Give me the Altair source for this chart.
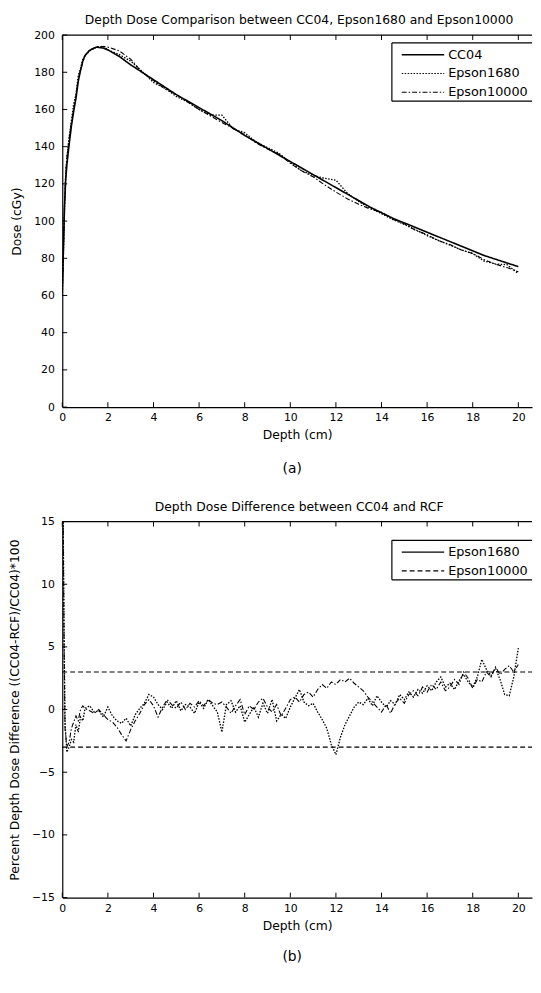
import altair as alt
import pandas as pd

FONT = "DejaVu Sans"

# ---------------- (a) depth dose ----------------
depth_a = [0, 0.05, 0.1, 0.15, 0.2, 0.3, 0.4, 0.5, 0.6, 0.7, 0.8, 0.9, 1.0, 1.2, 1.5, 1.8, 2.0,
           2.5, 3.0, 3.5, 4.0, 4.5, 5.0, 5.5, 6.0, 6.5, 7.0, 7.5, 8.0, 8.5, 9.0, 9.5, 10.0,
           10.5, 11.0, 11.5, 12.0, 12.5, 13.0, 13.5, 14.0, 14.5, 15.0, 15.5, 16.0, 16.5,
           17.0, 17.5, 18.0, 18.5, 19.0, 19.5, 20.0]
cc04 = [63, 85, 108, 122, 130, 141, 151, 159, 166, 175, 181, 186, 189, 191.8, 193.5, 193, 192,
        188.5, 184, 180, 176, 172, 168, 164.5, 161, 157.5, 154, 150, 146, 142.5, 139, 135.5, 132,
        128.5, 125, 121.5, 118, 114.5, 111, 107.5, 104.5, 101.5, 99, 96.5, 94, 91.5,
        89, 86.5, 84, 81.5, 79.5, 77.5, 75.5]
epson1680_a = [60, 82, 109, 125, 134, 145, 154, 163, 168, 178, 182, 187, 189, 191.5, 193.5, 194, 192,
               189.5, 186, 180.5, 174.5, 171.5, 167, 164, 160, 157, 157, 149.5, 147.5, 142.5, 139.5, 136.5, 131.5,
               127, 124.5, 123, 122, 115, 110.5, 107, 104, 100.8, 98.2, 95.3, 92.2, 89.5,
               87.1, 84.5, 82.5, 78.5, 76.9, 76.6, 71.8]
epson10000_a = [61, 83, 110, 126, 134, 144.5, 153, 160.5, 167, 176.5, 181, 185.5, 189, 192, 193.8, 193.8, 193.5,
                191.5, 187, 180, 175.5, 171, 168, 164, 160, 156.5, 153, 149.8, 146.5, 142, 138.7, 136, 131,
                127, 123.8, 119.5, 115.6, 112, 109, 106.5, 104.7, 101, 98.5, 95, 92.7, 89.5,
                87.4, 84.4, 82.6, 79.3, 76.8, 75, 72.8]
series_a = ["CC04", "Epson1680", "Epson10000"]
dash_a = [[1, 0], [1.5, 1.5], [5, 2, 1.5, 2]]
width_a = [1.6, 1.1, 1.1]

# ---------------- (b) percent difference ----------------
depth_b = [0.0, 0.04, 0.08, 0.12, 0.2, 0.3, 0.4, 0.5, 0.6, 0.7, 0.8, 0.9, 1.0,
           1.2, 1.4, 1.6, 1.8, 2.0, 2.2, 2.4, 2.6, 2.8, 3.0, 3.2, 3.4, 3.6, 3.8, 4.0,
           4.2, 4.4, 4.6, 4.8, 5.0, 5.2, 5.4, 5.6, 5.8, 6.0, 6.2, 6.4, 6.6, 6.8, 7.0,
           7.2, 7.4, 7.6, 7.8, 8.0, 8.2, 8.4, 8.6, 8.8, 9.0, 9.2, 9.4, 9.6, 9.8, 10.0,
           10.2, 10.4, 10.6, 10.8, 11.0, 11.2, 11.4, 11.6, 11.8, 12.0, 12.2, 12.4, 12.6, 12.8, 13.0,
           13.2, 13.4, 13.6, 13.8, 14.0, 14.2, 14.4, 14.6, 14.8, 15.0, 15.2, 15.4, 15.6, 15.8, 16.0,
           16.2, 16.4, 16.6, 16.8, 17.0, 17.2, 17.4, 17.6, 17.8, 18.0, 18.2, 18.4, 18.6, 18.8, 19.0,
           19.2, 19.4, 19.6, 19.8, 20.0]
diff_1680 = [40, 15, 6, -1, -3.4, -3.0, -2.4, -2.6, -1.2, -1.8, -0.6, -0.9, 0.1,
             0.3, -0.2, -0.1, -0.6, 0.2, -0.5, -0.9, -1.1, -0.7, -1.3, -0.4, 0.1, 0.5, 1.2, 1.0,
             0.4, 0.0, 0.6, 0.1, 0.7, -0.1, 0.4, 0.2, -0.3, 0.6, 0.1, 0.8, 0.3, -0.2, -1.8,
             0.4, 0.7, -0.2, 0.3, -1.0, -0.4, 0.2, -0.6, 0.5, -0.3, 0.8, -0.9, -0.4, -0.7, 0.2,
             0.9, 1.6, 0.6, 0.3, 0.5, -0.2, -0.8, -1.5, -2.8, -3.6, -2.2, -1.2, -0.5, 0.2, 0.6,
             0.4, 0.9, 0.3, 1.1, 0.6, 0.2, 0.7, 0.4, 1.2, 0.8, 1.4, 1.0, 1.6, 1.3, 1.9,
             1.5, 2.2, 2.6, 1.8, 2.1, 1.6, 2.3, 2.8, 2.2, 1.8, 2.6, 4.0, 3.2, 2.7, 3.3,
             2.4, 1.2, 1.1, 2.6, 4.9]
diff_10000 = [40, 15, 5, -1.5, -3.0, -2.6, -1.5, -1.0, -0.5, -0.9, 0.0, 0.3, 0.1,
              -0.1, -0.3, 0.0, -0.4, -0.8, -1.0, -1.4, -2.0, -2.5, -1.6, -0.9, -0.3, 0.4, 0.8, 0.3,
              -0.6, 0.2, 0.8, 0.4, 0.1, 0.6, 0.0, 0.5, 0.2, 0.7, 0.3, 0.8, 0.5, 0.4, 0.6,
              0.2, -0.3, 0.3, 0.8, -0.4, 0.3, 0.0, 0.6, 0.9, 0.2, -0.2, 0.4, -0.5, 0.1, 0.8,
              1.0, 0.6, 1.2, 1.4, 1.0, 1.6, 2.0, 1.7, 2.2, 2.0, 2.4, 2.2, 2.5, 2.1, 1.8,
              1.5, 1.0, 0.6, 0.2, -0.2, 0.4, -0.3, 0.5, 0.9, 0.5, 1.2, 1.5, 1.1, 1.8, 1.4,
              2.0, 1.6, 2.2, 1.5, 1.8, 2.4, 2.0, 3.0, 2.5, 1.7, 2.4, 2.2, 3.0, 2.6, 3.4,
              2.8, 3.2, 3.5, 3.0, 3.6]
series_b = ["Epson1680", "Epson10000"]
dash_b = [[1, 0], [5, 3]]
width_b = [1.3, 1.1]
limits = [3, -3]

x_ticks = [0, 2, 4, 6, 8, 10, 12, 14, 16, 18, 20]
y_ticks_a = [0, 20, 40, 60, 80, 100, 120, 140, 160, 180, 200]
y_ticks_b = [-15, -10, -5, 0, 5, 10, 15]
panel_labels = ["(a)", "(b)"]
titles = ["Depth Dose Comparison between CC04, Epson1680 and Epson10000",
          "Depth Dose Difference between CC04 and RCF"]

W = 476
HA = 377
HB = 381
XDOM = [0, 20.6]
TICK = 5
LEG_X = 334          # legend box left edge (px inside plot)
LEG_ROW = 19         # legend row pitch (px)

df_a = pd.DataFrame({
    "depth": depth_a * 3,
    "dose": cc04 + epson1680_a + epson10000_a,
    "series": ["CC04"] * len(depth_a) + ["Epson1680"] * len(depth_a) + ["Epson10000"] * len(depth_a),
})
df_b = pd.DataFrame({
    "depth": depth_b * 2,
    "diff": diff_1680 + diff_10000,
    "series": ["Epson1680"] * len(depth_b) + ["Epson10000"] * len(depth_b),
})

xscale = alt.Scale(domain=XDOM, nice=False, zero=False)


def x_enc():
    return alt.X("depth:Q", scale=xscale,
                 axis=alt.Axis(values=x_ticks, title="Depth (cm)", labelOverlap=False, labelFlush=False))


def y_enc(field, ticks, dom, title):
    return alt.Y(f"{field}:Q", scale=alt.Scale(domain=dom, nice=False, zero=False),
                 axis=alt.Axis(values=ticks, title=title, labelOverlap=False, labelFlush=False,
                               tickCount=len(ticks)))


def frame_layers(yfield, yticks, ydom, ytitle, H, label, lab_dy, title):
    xt = pd.DataFrame({"depth": x_ticks})
    yt = pd.DataFrame({yfield: yticks})
    one = pd.DataFrame({"k": [0]})
    top = alt.Chart(one).mark_rule(color="black", strokeWidth=1.2).encode(
        x=alt.value(0), x2=alt.value(W), y=alt.value(0))
    xb = alt.Chart(xt).mark_rule(color="black", strokeWidth=1).encode(
        x=x_enc(), y=alt.value(H), y2=alt.value(H - TICK))
    xtp = alt.Chart(xt).mark_rule(color="black", strokeWidth=1).encode(
        x=x_enc(), y=alt.value(0), y2=alt.value(TICK))
    yl = alt.Chart(yt).mark_rule(color="black", strokeWidth=1).encode(
        y=y_enc(yfield, yticks, ydom, ytitle), x=alt.value(0), x2=alt.value(TICK))
    lab = alt.Chart(pd.DataFrame({"lab": [label]})).mark_text(
        font=FONT, fontSize=14, color="black").encode(
        text="lab:N", x=alt.value(W / 2 - 5), y=alt.value(H + lab_dy))
    ttl = alt.Chart(pd.DataFrame({"ttl": [title]})).mark_text(
        font=FONT, fontSize=12.5, color="black", baseline="middle").encode(
        text="ttl:N", x=alt.value(W / 2 + 2), y=alt.value(-15))
    return [top, xb, xtp, yl, lab, ttl]


def legend_layers(names, dashes, widths, top):
    n = len(names)
    box_h = 12 + (n - 1) * LEG_ROW + 9
    one = pd.DataFrame({"k": [0]})
    box = alt.Chart(one).mark_rect(fill="white").encode(
        x=alt.value(LEG_X), x2=alt.value(W), y=alt.value(top), y2=alt.value(top + box_h))
    edges = [
        alt.Chart(one).mark_rule(color="black", strokeWidth=1.2).encode(
            x=alt.value(LEG_X), x2=alt.value(W), y=alt.value(top)),
        alt.Chart(one).mark_rule(color="black", strokeWidth=1.2).encode(
            x=alt.value(LEG_X), x2=alt.value(W), y=alt.value(top + box_h)),
        alt.Chart(one).mark_rule(color="black", strokeWidth=1.2).encode(
            x=alt.value(LEG_X), y=alt.value(top), y2=alt.value(top + box_h)),
    ]
    items = []
    for i, (nm, ds, sw) in enumerate(zip(names, dashes, widths)):
        yy = top + 12 + i * LEG_ROW
        d = pd.DataFrame({"name": [nm]})
        items.append(alt.Chart(d).mark_rule(color="black", strokeWidth=sw, strokeDash=ds).encode(
            x=alt.value(LEG_X + 10), x2=alt.value(LEG_X + 53), y=alt.value(yy)))
        items.append(alt.Chart(d).mark_text(font=FONT, fontSize=13, color="black",
                                            align="left", baseline="middle").encode(
            text="name:N", x=alt.value(LEG_X + 57), y=alt.value(yy)))
    return [box] + edges + items


lines_a = alt.Chart(df_a).mark_line(color="black", clip=True).encode(
    x=x_enc(),
    y=y_enc("dose", y_ticks_a, [0, 200], "Dose (cGy)"),
    strokeDash=alt.StrokeDash("series:N", scale=alt.Scale(domain=series_a, range=dash_a), legend=None),
    strokeWidth=alt.StrokeWidth("series:N", scale=alt.Scale(domain=series_a, range=width_a), legend=None),
)

chart_a = alt.layer(lines_a,
                    *frame_layers("dose", y_ticks_a, [0, 200], "Dose (cGy)", HA, panel_labels[0], 63, titles[0]),
                    *legend_layers(series_a, dash_a, width_a, 8)).properties(width=W, height=HA)

YT_B = "Percent Depth Dose Difference ((CC04-RCF)/CC04)*100"
lims = alt.Chart(pd.DataFrame({"diff": limits})).mark_rule(
    color="black", strokeWidth=1.1, strokeDash=[5, 3]).encode(
    y=y_enc("diff", y_ticks_b, [-15, 15], YT_B), x=alt.value(0), x2=alt.value(W))

lines_b = alt.Chart(df_b).mark_line(color="black", clip=True).encode(
    x=x_enc(),
    y=y_enc("diff", y_ticks_b, [-15, 15], YT_B),
    strokeDash=alt.StrokeDash("series:N", scale=alt.Scale(domain=series_b, range=dash_b), legend=None),
    strokeWidth=alt.StrokeWidth("series:N", scale=alt.Scale(domain=series_b, range=width_b), legend=None),
)

chart_b = alt.layer(lines_b, lims,
                    *frame_layers("diff", y_ticks_b, [-15, 15], YT_B, HB, panel_labels[1], 60, titles[1]),
                    *legend_layers(series_b, dash_b, width_b, 19)).properties(width=W, height=HB)

chart = alt.vconcat(chart_a, chart_b, spacing=25).properties(
    padding={"left": 0, "top": 0, "right": 0, "bottom": 0}
).configure_view(stroke=None).configure_axis(
    labelFont=FONT, labelFontSize=11, labelColor="black",
    titleFont=FONT, titleFontSize=12.5, titleFontWeight="normal", titleColor="black",
    domainColor="black", domainWidth=1.2, ticks=False, grid=False,
).configure_axisX(labelPadding=5, titlePadding=6).configure_axisY(
    labelPadding=8, titlePadding=10
)

chart.save("out.html", embed_options={"renderer": "svg", "actions": False})
